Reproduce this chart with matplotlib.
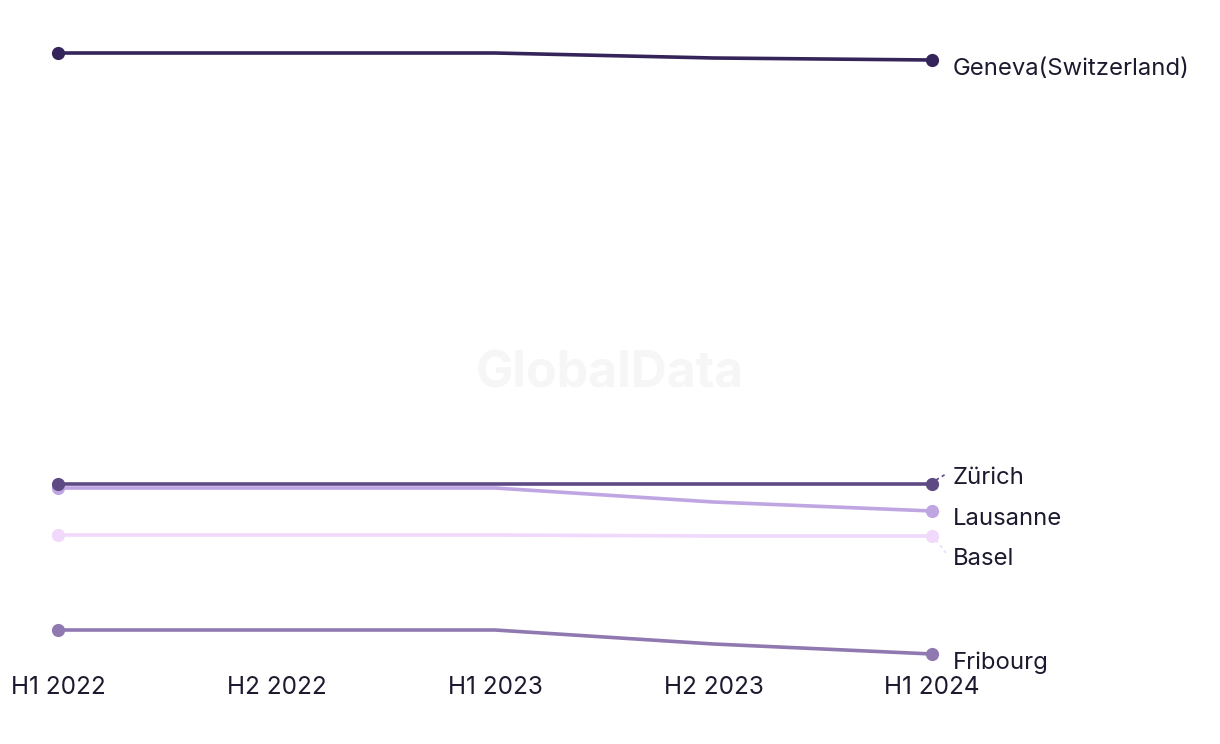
import numpy as np
import matplotlib
matplotlib.use("Agg")
import matplotlib.pyplot as plt

periods = ["H1 2022", "H2 2022", "H1 2023", "H2 2023", "H1 2024"]
cities = ["Geneva(Switzerland)", "Zürich", "Lausanne", "Basel", "Fribourg"]
geneva = [64.7, 64.7, 64.7, 64.2, 64.0]
zurich = [21.6, 21.6, 21.6, 21.6, 21.6]
lausanne = [21.2, 21.2, 21.2, 19.8, 18.9]
basel = [16.5, 16.5, 16.5, 16.4, 16.4]
fribourg = [7.0, 7.0, 7.0, 5.6, 4.6]
series = [geneva, zurich, lausanne, basel, fribourg]
colors = ["#35245a", "#5e4a82", "#c0a5e3", "#f1d9fb", "#9079b1"]
label_offsets = [-0.9, 0.6, -0.8, -2.3, -0.9]  # label y shifts in data units

plt.rcParams['font.family'] = ['Inter', 'DejaVu Sans']

fig = plt.figure(figsize=(12.2, 7.44), dpi=100)
W, H = 1220, 744
ax = fig.add_axes([58 / W, (H - 670) / H, (932 - 58) / W, 670 / H])
ax.set_xlim(0, 4)
ax.set_ylim(3, 70)
for s in ax.spines.values():
    s.set_visible(False)
ax.set_yticks([])
ax.set_xticks(range(len(periods)))
ax.set_xticklabels(periods, fontsize=17.5, color="#1b1a2e")
ax.tick_params(axis='x', length=0, pad=4.5)

fig.text(0.5, (H - 374) / H, "GlobalData", ha='center', va='center',
         fontsize=36, fontweight='bold', color='#f6f6f6', zorder=0)

xs = np.arange(len(periods))
order = [3, 4, 2, 1, 0]
for i in order:
    vals = series[i]
    c = colors[i]
    ax.plot(xs, vals, '-', color=c, lw=2.6, solid_capstyle='round',
            solid_joinstyle='round', zorder=3, clip_on=False)
    ax.plot([xs[0], xs[-1]], [vals[0], vals[-1]], 'o', color=c, ms=9.5,
            mec='none', zorder=4, clip_on=False)
    ly = vals[-1] + label_offsets[i]
    ax.text(4.0 + 21 / 218.5, ly, cities[i], fontsize=17.2, color="#1b1a2e",
            va='center', ha='left', clip_on=False)
    if i in (1, 3):
        ax.plot([4.0 + 4 / 218.5, 4.0 + 14 / 218.5],
                [vals[-1] + np.sign(label_offsets[i]) * 0.4,
                 vals[-1] + (1.0 if i == 1 else -1.7)],
                ls=(0, (2, 2)), lw=1.2, color=c, clip_on=False)

fig.savefig("out.png", dpi=100, facecolor='white')
